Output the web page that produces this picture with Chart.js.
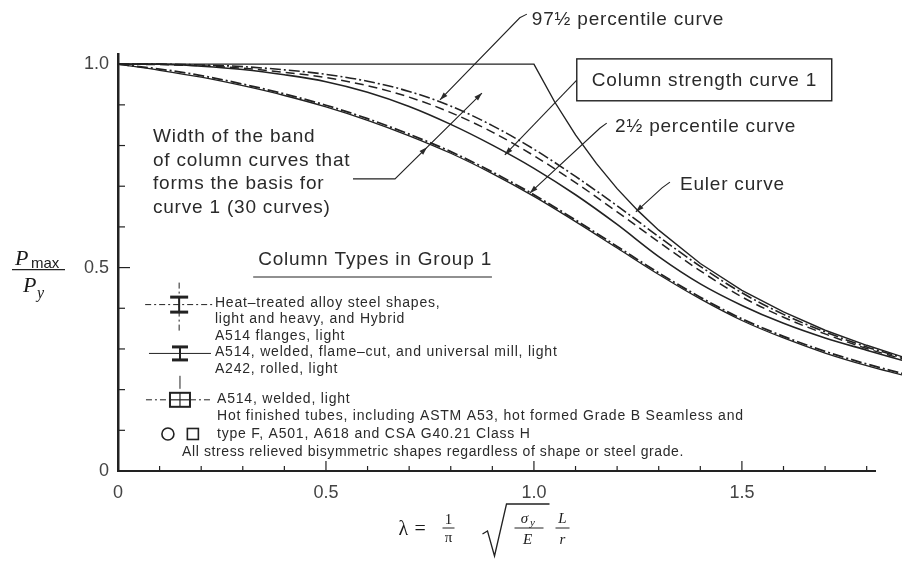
<!DOCTYPE html>
<html lang="en">
<head>
<meta charset="UTF-8">
<title>Column strength curve 1</title>
<script src="https://cdn.jsdelivr.net/npm/chart.js"></script>
<style>
  html, body { margin: 0; padding: 0; background: #fff; }
  #wrap { width: 902px; height: 565px; }
</style>
</head>
<body>
<div id="wrap"><canvas id="colChart" width="902" height="565"></canvas></div>
<script>
const lambda = [0, 0.1, 0.2, 0.3, 0.4, 0.5, 0.6, 0.7, 0.8, 0.9, 1.0, 1.1, 1.2, 1.3, 1.4, 1.5, 1.6, 1.7, 1.8, 1.885];
const p975      = [1.0, 1.0, 0.998, 0.994, 0.986, 0.975, 0.958, 0.933, 0.897, 0.849, 0.791, 0.724, 0.652, 0.576, 0.503, 0.438, 0.385, 0.342, 0.305, 0.279];
const bandUpper = [1.0, 0.999, 0.996, 0.990, 0.980, 0.967, 0.947, 0.919, 0.881, 0.833, 0.775, 0.709, 0.637, 0.563, 0.492, 0.428, 0.378, 0.337, 0.301, 0.276];
const curve1    = [1.0, 1.0, 0.995, 0.987, 0.974, 0.957, 0.931, 0.896, 0.852, 0.801, 0.744, 0.679, 0.606, 0.527, 0.460, 0.407, 0.363, 0.327, 0.297, 0.272];
const p025      = [1.0, 0.988, 0.972, 0.951, 0.927, 0.899, 0.866, 0.828, 0.785, 0.735, 0.679, 0.617, 0.552, 0.487, 0.427, 0.374, 0.331, 0.294, 0.263, 0.240];
const bandLower = [1.0, 0.985, 0.968, 0.947, 0.923, 0.895, 0.862, 0.824, 0.781, 0.731, 0.675, 0.613, 0.548, 0.483, 0.423, 0.370, 0.327, 0.290, 0.259, 0.236];

// Euler curve has its own points (sharp corner at 1.0)
const eulerLambda = [0, 1.0, 1.05, 1.1, 1.15, 1.2, 1.25, 1.3, 1.4, 1.5, 1.6, 1.7, 1.8, 1.885];
const euler       = [1.0, 1.0, 0.907, 0.826, 0.756, 0.694, 0.640, 0.592, 0.510, 0.444, 0.391, 0.346, 0.309, 0.281];

const xTickValues = [0, 0.5, 1.0, 1.5];
const xTickLabels = ['0', '0.5', '1.0', '1.5'];
const yTickValues = [0, 0.5, 1.0];
const yTickLabels = ['0', '0.5', '1.0'];

const sans = '"Liberation Sans", Arial, sans-serif';
const serif = '"Liberation Serif", "DejaVu Serif", serif';
const ink = '#222';

function pts(xs, ys) { return xs.map((v, i) => ({ x: v, y: ys[i] })); }
function pick(vals, labels, v) {
  const i = vals.findIndex(t => Math.abs(t - v) < 1e-6);
  return i >= 0 ? labels[i] : '';
}
function isMajor(vals, v) { return vals.some(t => Math.abs(t - v) < 1e-6); }

function arrow(ctx, from, to) {
  const a = Math.atan2(to[1] - from[1], to[0] - from[0]);
  const l = 8, w = 2.6;
  ctx.beginPath();
  ctx.moveTo(to[0], to[1]);
  ctx.lineTo(to[0] - l * Math.cos(a) + w * Math.sin(a), to[1] - l * Math.sin(a) - w * Math.cos(a));
  ctx.lineTo(to[0] - l * Math.cos(a) - w * Math.sin(a), to[1] - l * Math.sin(a) + w * Math.cos(a));
  ctx.closePath();
  ctx.fill();
}

function line(ctx, a, b, c, d) {
  ctx.beginPath(); ctx.moveTo(a, b); ctx.lineTo(c, d); ctx.stroke();
}

function flange(ctx, cx, cy, w, h) {
  ctx.setLineDash([]);
  ctx.lineWidth = 3;
  line(ctx, cx - w / 2, cy - h / 2, cx + w / 2, cy - h / 2);
  line(ctx, cx - w / 2, cy + h / 2, cx + w / 2, cy + h / 2);
  ctx.lineWidth = 2;
  line(ctx, cx, cy - h / 2, cx, cy + h / 2);
}

// callouts, positions in data units (lambda, Pmax/Py)
const callouts = [
  { text: '97½ percentile curve', at: [0.995, 1.109], path: [[0.983, 1.123], [0.966, 1.114], [0.774, 0.912]] },
  { text: 'Column strength curve 1', at: [1.139, 0.959], path: [[1.103, 0.961], [0.930, 0.777]], box: [[1.103, 1.013], [1.716, 0.910]] },
  { text: '2½ percentile curve', at: [1.195, 0.846], path: [[1.175, 0.855], [1.159, 0.843], [0.990, 0.683]] },
  { text: 'Euler curve', at: [1.351, 0.703], path: [[1.327, 0.710], [1.308, 0.696], [1.245, 0.637]] }
];
const bandText = ['Width of the band', 'of column curves that', 'forms the basis for', 'curve 1 (30 curves)'];
const legendLines = [
  ['Heat–treated alloy steel shapes,', 0.233, 0.413],
  ['light and heavy, and Hybrid', 0.233, 0.374],
  ['A514 flanges, light', 0.233, 0.332],
  ['A514, welded, flame–cut, and universal mill, light', 0.233, 0.293],
  ['A242, rolled, light', 0.233, 0.251],
  ['A514, welded, light', 0.238, 0.177],
  ['Hot finished tubes, including ASTM A53, hot formed Grade B Seamless and', 0.238, 0.135],
  ['type F, A501, A618 and CSA G40.21 Class H', 0.238, 0.091],
  ['All stress relieved bisymmetric shapes regardless of shape or steel grade.', 0.154, 0.047]
];

const drawExtras = {
  id: 'drawExtras',
  afterDatasetsDraw(chart) {
    const { ctx, chartArea: ca, scales: { x, y } } = chart;
    const P = (a, b) => [x.getPixelForValue(a), y.getPixelForValue(b)];
    ctx.save();
    ctx.strokeStyle = ink;
    ctx.fillStyle = ink;
    ctx.lineWidth = 1.2;

    // inward tick marks
    y.ticks.forEach(t => {
      const py = y.getPixelForValue(t.value);
      line(ctx, ca.left, py, ca.left + (isMajor(yTickValues, t.value) ? 12 : 7), py);
    });
    x.ticks.forEach(t => {
      const px = x.getPixelForValue(t.value);
      line(ctx, px, ca.bottom, px, ca.bottom - (isMajor(xTickValues, t.value) ? 10 : 5));
    });

    // callouts
    ctx.font = '19px ' + sans;
    ctx.letterSpacing = '0.8px';
    ctx.textBaseline = 'middle';
    ctx.fillStyle = '#2a2a2a';
    callouts.forEach(c => {
      const [tx, ty] = P(c.at[0], c.at[1]);
      ctx.fillText(c.text, tx, ty);
      if (c.box) {
        const [bx0, by0] = P(c.box[0][0], c.box[0][1]);
        const [bx1, by1] = P(c.box[1][0], c.box[1][1]);
        ctx.lineWidth = 1.4;
        ctx.strokeRect(bx0, by0, bx1 - bx0, by1 - by0);
      }
      const p = c.path.map(q => P(q[0], q[1]));
      ctx.lineWidth = 1.1;
      ctx.beginPath();
      p.forEach((q, i) => i ? ctx.lineTo(q[0], q[1]) : ctx.moveTo(q[0], q[1]));
      ctx.stroke();
      arrow(ctx, p[p.length - 2], p[p.length - 1]);
    });

    // band width note
    bandText.forEach((s, i) => {
      const [tx, ty] = P(0.084, 0.821 - i * 0.058);
      ctx.fillText(s, tx, ty);
    });
    const b0 = P(0.565, 0.718), b1 = P(0.666, 0.718), b2 = P(0.743, 0.796), b3 = P(0.875, 0.929);
    ctx.beginPath();
    ctx.moveTo(b0[0], b0[1]); ctx.lineTo(b1[0], b1[1]); ctx.lineTo(b3[0], b3[1]);
    ctx.stroke();
    arrow(ctx, b1, b2);
    arrow(ctx, b1, b3);

    // legend: Column Types in Group 1
    const [gx, gy] = P(0.337, 0.519);
    ctx.fillText('Column Types in Group 1', gx, gy);
    const u0 = P(0.325, 0.477), u1 = P(0.899, 0.477);
    ctx.lineWidth = 1.1;
    line(ctx, u0[0], u0[1], u1[0], u1[1]);

    ctx.font = '14px ' + sans;
    legendLines.forEach((r, i) => {
      ctx.letterSpacing = i === legendLines.length - 1 ? '0.6px' : '0.8px';
      const [tx, ty] = P(r[1], r[2]);
      ctx.fillText(r[0], tx, ty);
    });
    ctx.letterSpacing = '0px';

    ctx.strokeStyle = ink;
    // symbol 1: dash-dot axes with wide flange
    let [cx, cy] = P(0.147, 0.409);
    ctx.lineWidth = 1;
    ctx.setLineDash([6, 3, 2, 3]);
    line(ctx, cx - 34, cy, cx + 34, cy);
    line(ctx, cx, cy - 22, cx, cy + 26);
    flange(ctx, cx, cy, 18, 15);
    // symbol 2: solid line with flange
    [cx, cy] = P(0.149, 0.289);
    ctx.lineWidth = 1;
    line(ctx, cx - 31, cy, cx + 31, cy);
    flange(ctx, cx, cy, 16, 13);
    // symbol 3: box section
    [cx, cy] = P(0.149, 0.175);
    ctx.lineWidth = 1;
    ctx.setLineDash([6, 3, 2, 3]);
    line(ctx, cx - 34, cy, cx - 10, cy);
    line(ctx, cx + 10, cy, cx + 33, cy);
    ctx.setLineDash([]);
    line(ctx, cx, cy - 24, cx, cy - 11);
    ctx.lineWidth = 2;
    ctx.strokeRect(cx - 10, cy - 7, 20, 14);
    ctx.lineWidth = 1.2;
    line(ctx, cx - 10, cy, cx + 10, cy);
    line(ctx, cx, cy - 7, cx, cy + 7);
    // tubes
    let [ox, oy] = P(0.120, 0.091);
    ctx.lineWidth = 1.6;
    ctx.beginPath(); ctx.arc(ox, oy, 6, 0, Math.PI * 2); ctx.stroke();
    [ox, oy] = P(0.180, 0.091);
    ctx.strokeRect(ox - 5.5, oy - 5.5, 11, 11);

    // y title  Pmax / Py
    const L = ca.left, mid = y.getPixelForValue(0.5) + 2;
    ctx.fillStyle = '#1a1a1a';
    ctx.textBaseline = 'alphabetic';
    ctx.font = 'italic 22px ' + serif;
    ctx.fillText('P', L - 103, mid - 5);
    ctx.font = '15px ' + sans;
    ctx.fillText('max', L - 87, mid - 2);
    ctx.lineWidth = 1.2;
    line(ctx, L - 106, mid, L - 53, mid);
    ctx.font = 'italic 22px ' + serif;
    ctx.fillText('P', L - 95, mid + 22);
    ctx.font = 'italic 16px ' + serif;
    ctx.fillText('y', L - 81, mid + 28);

    // x title  λ = 1/π √(σy/E) L/r
    const X0 = (ca.left + ca.right) / 2 - 98, fy = 528;
    ctx.font = '20px ' + serif;
    ctx.fillText('λ', X0, fy + 7);
    ctx.fillText('=', X0 + 16, fy + 7);
    ctx.font = '15px ' + serif;
    ctx.textAlign = 'center';
    ctx.fillText('1', X0 + 50, fy - 4);
    ctx.fillText('π', X0 + 50, fy + 14);
    ctx.lineWidth = 1;
    line(ctx, X0 + 44, fy, X0 + 56, fy);
    ctx.lineWidth = 1.3;
    ctx.beginPath();
    ctx.moveTo(X0 + 84, fy + 6); ctx.lineTo(X0 + 89, fy + 3); ctx.lineTo(X0 + 96, fy + 28);
    ctx.lineTo(X0 + 108, fy - 24); ctx.lineTo(X0 + 151, fy - 24);
    ctx.stroke();
    ctx.font = 'italic 15px ' + serif;
    ctx.fillText('σ', X0 + 126, fy - 5);
    ctx.font = 'italic 11px ' + serif;
    ctx.fillText('y', X0 + 134, fy - 2);
    ctx.font = 'italic 15px ' + serif;
    ctx.fillText('E', X0 + 129, fy + 16);
    ctx.lineWidth = 1;
    line(ctx, X0 + 116, fy, X0 + 145, fy);
    ctx.fillText('L', X0 + 164, fy - 5);
    ctx.fillText('r', X0 + 164, fy + 16);
    line(ctx, X0 + 157, fy, X0 + 171, fy);
    ctx.restore();
  }
};

const dashDot = [11, 3, 2, 3];
new Chart(document.getElementById('colChart').getContext('2d'), {
  type: 'line',
  data: {
    datasets: [
      { label: 'Euler curve', data: pts(eulerLambda, euler), borderColor: ink, borderWidth: 1.4, tension: 0 },
      { label: '97½ percentile curve', data: pts(lambda, p975), borderColor: ink, borderWidth: 1.6, borderDash: dashDot, cubicInterpolationMode: 'monotone' },
      { label: 'Band upper limit', data: pts(lambda, bandUpper), borderColor: ink, borderWidth: 1.5, borderDash: [9, 5], cubicInterpolationMode: 'monotone' },
      { label: 'Column strength curve 1', data: pts(lambda, curve1), borderColor: ink, borderWidth: 1.6, cubicInterpolationMode: 'monotone' },
      { label: '2½ percentile curve', data: pts(lambda, p025), borderColor: ink, borderWidth: 1.8, borderDash: dashDot, cubicInterpolationMode: 'monotone' },
      { label: 'Band lower limit', data: pts(lambda, bandLower), borderColor: ink, borderWidth: 1.3, cubicInterpolationMode: 'monotone' }
    ]
  },
  options: {
    responsive: false,
    animation: false,
    devicePixelRatio: 1,
    layout: { padding: { left: 0, top: 54, right: 27, bottom: 0 } },
    elements: { point: { radius: 0 } },
    datasets: { line: { clip: false, fill: false } },
    plugins: { legend: { display: false }, tooltip: { enabled: false } },
    scales: {
      x: {
        type: 'linear', min: 0, max: 1.82,
        grid: { display: false, drawTicks: false, tickLength: 0 },
        border: { display: true, color: ink, width: 2 },
        ticks: {
          stepSize: 0.1, includeBounds: false, autoSkip: false, maxRotation: 0, padding: 11,
          color: '#444', font: { family: sans, size: 18 },
          callback: v => pick(xTickValues, xTickLabels, v)
        },
        afterFit: s => { s.height = 94; }
      },
      y: {
        type: 'linear', min: 0, max: 1.025,
        grid: { display: false, drawTicks: false, tickLength: 0 },
        border: { display: true, color: ink, width: 2.5 },
        ticks: {
          stepSize: 0.1, includeBounds: false, autoSkip: false, padding: 9,
          color: '#444', font: { family: sans, size: 18 },
          callback: v => pick(yTickValues, yTickLabels, v)
        },
        afterFit: s => { s.width = 118; }
      }
    }
  },
  plugins: [drawExtras]
});
</script>
</body>
</html>
